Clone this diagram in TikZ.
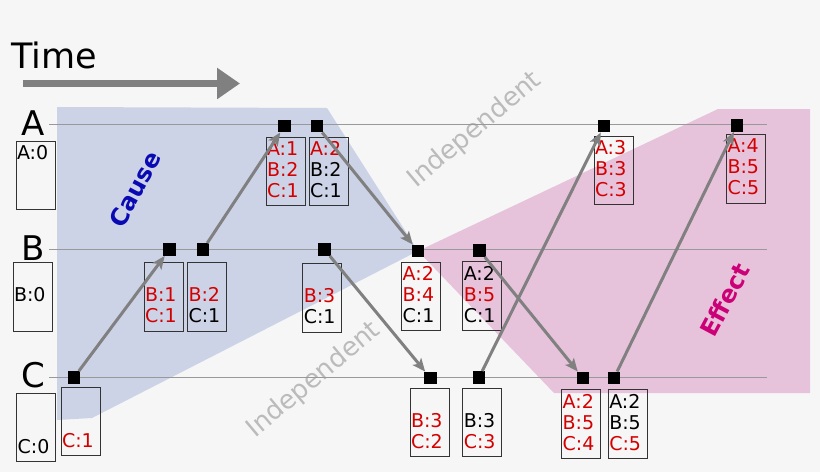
\documentclass[tikz,border=0pt]{standalone}
\usepackage{fontspec}
\setmainfont{DejaVu Sans}
\usepackage{xcolor}
\definecolor{Paper}{HTML}{F6F6F6}
\definecolor{CauseBg}{HTML}{CDD3E6}
\definecolor{EffectBg}{HTML}{E6C3DB}
\definecolor{CauseInk}{HTML}{0A0AB4}
\definecolor{EffectInk}{HTML}{CC0077}
\definecolor{IndepInk}{HTML}{BBBBBB}
\definecolor{Tick}{HTML}{D40000}
\definecolor{Msg}{HTML}{808080}
\definecolor{Lane}{HTML}{999999}
\usepackage{tikz}
\usetikzlibrary{arrows.meta}
\newcommand{\rd}[1]{\textcolor{Tick}{#1}}
\newcommand{\slot}{\rule[-3.5pt]{0pt}{17pt}}
\newcommand{\clk}[3]{\slot#1\\\slot#2\\\slot#3}

\begin{document}
\begin{tikzpicture}[x=1pt,y=-1pt,
 event/.style={rectangle,fill=black,minimum size=12.5pt,inner sep=0pt},
 clock/.style={rectangle,draw=black!80,line width=0.9pt,anchor=north,
  text width=37pt,align=left,inner xsep=1pt,inner ysep=0pt,
  minimum height=68.5pt,font=\fontsize{19}{21}\selectfont},
 msg/.style={draw=Msg,line width=3pt,-{Stealth[length=13pt,width=11pt,inset=3pt]}},
 proc/.style={font=\fontsize{34}{40}\selectfont,anchor=base,inner sep=0pt},
 cone/.style={font=\bfseries\fontsize{24}{28}\selectfont,rotate=62},
 indep/.style={text=IndepInk,font=\fontsize{26}{30}\selectfont,rotate=40}]
\fill[Paper] (0,0) rectangle (820,472);
\useasboundingbox (0,0) rectangle (820,472);
% light cones
\fill[CauseBg] (57,107)--(327,108)--(418,251)--(92,418)--(57,420)--cycle;
\fill[EffectBg] (418,251)--(718,109)--(810,109)--(810,393)--(554,393)--cycle;
\node[cone,text=CauseInk] (cause) at (135,189) {Cause};
\node[cone,text=EffectInk] (effect) at (725,300) {Effect};
\node[indep] (indepUp) at (475,130) {Independent};
\node[indep] (indepLow) at (314,380) {Independent};
% time arrow
\node[font=\fontsize{35}{40}\selectfont,anchor=base west,inner sep=0pt] (time) at (11,68) {Time};
\coordinate (t0) at (23,83.5); \coordinate (t1) at (240,83.5);
\draw[Msg,line width=7.5pt,-{Triangle[length=23pt,width=30pt]}] (t0)--(t1);
% process lines
\foreach \p/\y in {A/124.5,B/249.5,C/377} {
 \draw[Lane,line width=1pt] (49,\y)--(767,\y);
 \node[proc] (p\p) at (33,\y+10.5) {\p};
}
% initial clocks
\node[clock] (a0) at (35.5,140.7) {\clk{A:0}{}{}};
\node[clock] (b0) at (32.5,262) {\clk{}{B:0}{}};
\node[clock] (c0) at (36.2,392.7) {\clk{}{}{C:0}};
% clocks after each event
\node[clock] (cA1) at (285.5,136.7) {\clk{\rd{A:1}}{\rd{B:2}}{\rd{C:1}}};
\node[clock] (cA2) at (328.5,136.7) {\clk{\rd{A:2}}{B:2}{C:1}};
\node[clock] (cA3) at (613.5,135.5) {\clk{\rd{A:3}}{\rd{B:3}}{\rd{C:3}}};
\node[clock] (cA4) at (746,134) {\clk{\rd{A:4}}{\rd{B:5}}{\rd{C:5}}};
\node[clock] (cB1) at (163.5,262) {\clk{}{\rd{B:1}}{\rd{C:1}}};
\node[clock] (cB2) at (207,262) {\clk{}{\rd{B:2}}{C:1}};
\node[clock] (cB3) at (322.3,263) {\clk{}{\rd{B:3}}{C:1}};
\node[clock] (cB4) at (421.2,261.7) {\clk{\rd{A:2}}{\rd{B:4}}{C:1}};
\node[clock] (cB5) at (482.3,261) {\clk{A:2}{\rd{B:5}}{C:1}};
\node[clock] (cC1) at (80.5,386.7) {\clk{}{}{\rd{C:1}}};
\node[clock] (cC2) at (429.5,387.7) {\clk{}{\rd{B:3}}{\rd{C:2}}};
\node[clock] (cC3) at (482.3,387.7) {\clk{}{B:3}{\rd{C:3}}};
\node[clock] (cC4) at (581.2,389) {\clk{\rd{A:2}}{\rd{B:5}}{\rd{C:4}}};
\node[clock] (cC5) at (627.8,389) {\clk{A:2}{B:5}{\rd{C:5}}};
% events
\foreach \n/\x/\y in {eA1/284.5/126,eA2/317/126,eA3/604/126,eA4/737/125.5,
  eB1/169.5/249.5,eB2/203/249.5,eB3/324.5/249.5,eB4/418/251,eB5/479.5/250.5,
  eC1/74/377.5,eC2/430.5/378,eC3/479/377.5,eC4/583/378,eC5/614/378}
 \node[event] (\n) at (\x,\y) {};
% messages
\foreach \s/\t in {eC1/eB1,eB2/eA1,eA2/eB4,eB3/eC2,eB5/eC4,eC3/eA3,eC5/eA4}
 \draw[msg] (\s)--(\t);
\end{tikzpicture}
\end{document}
